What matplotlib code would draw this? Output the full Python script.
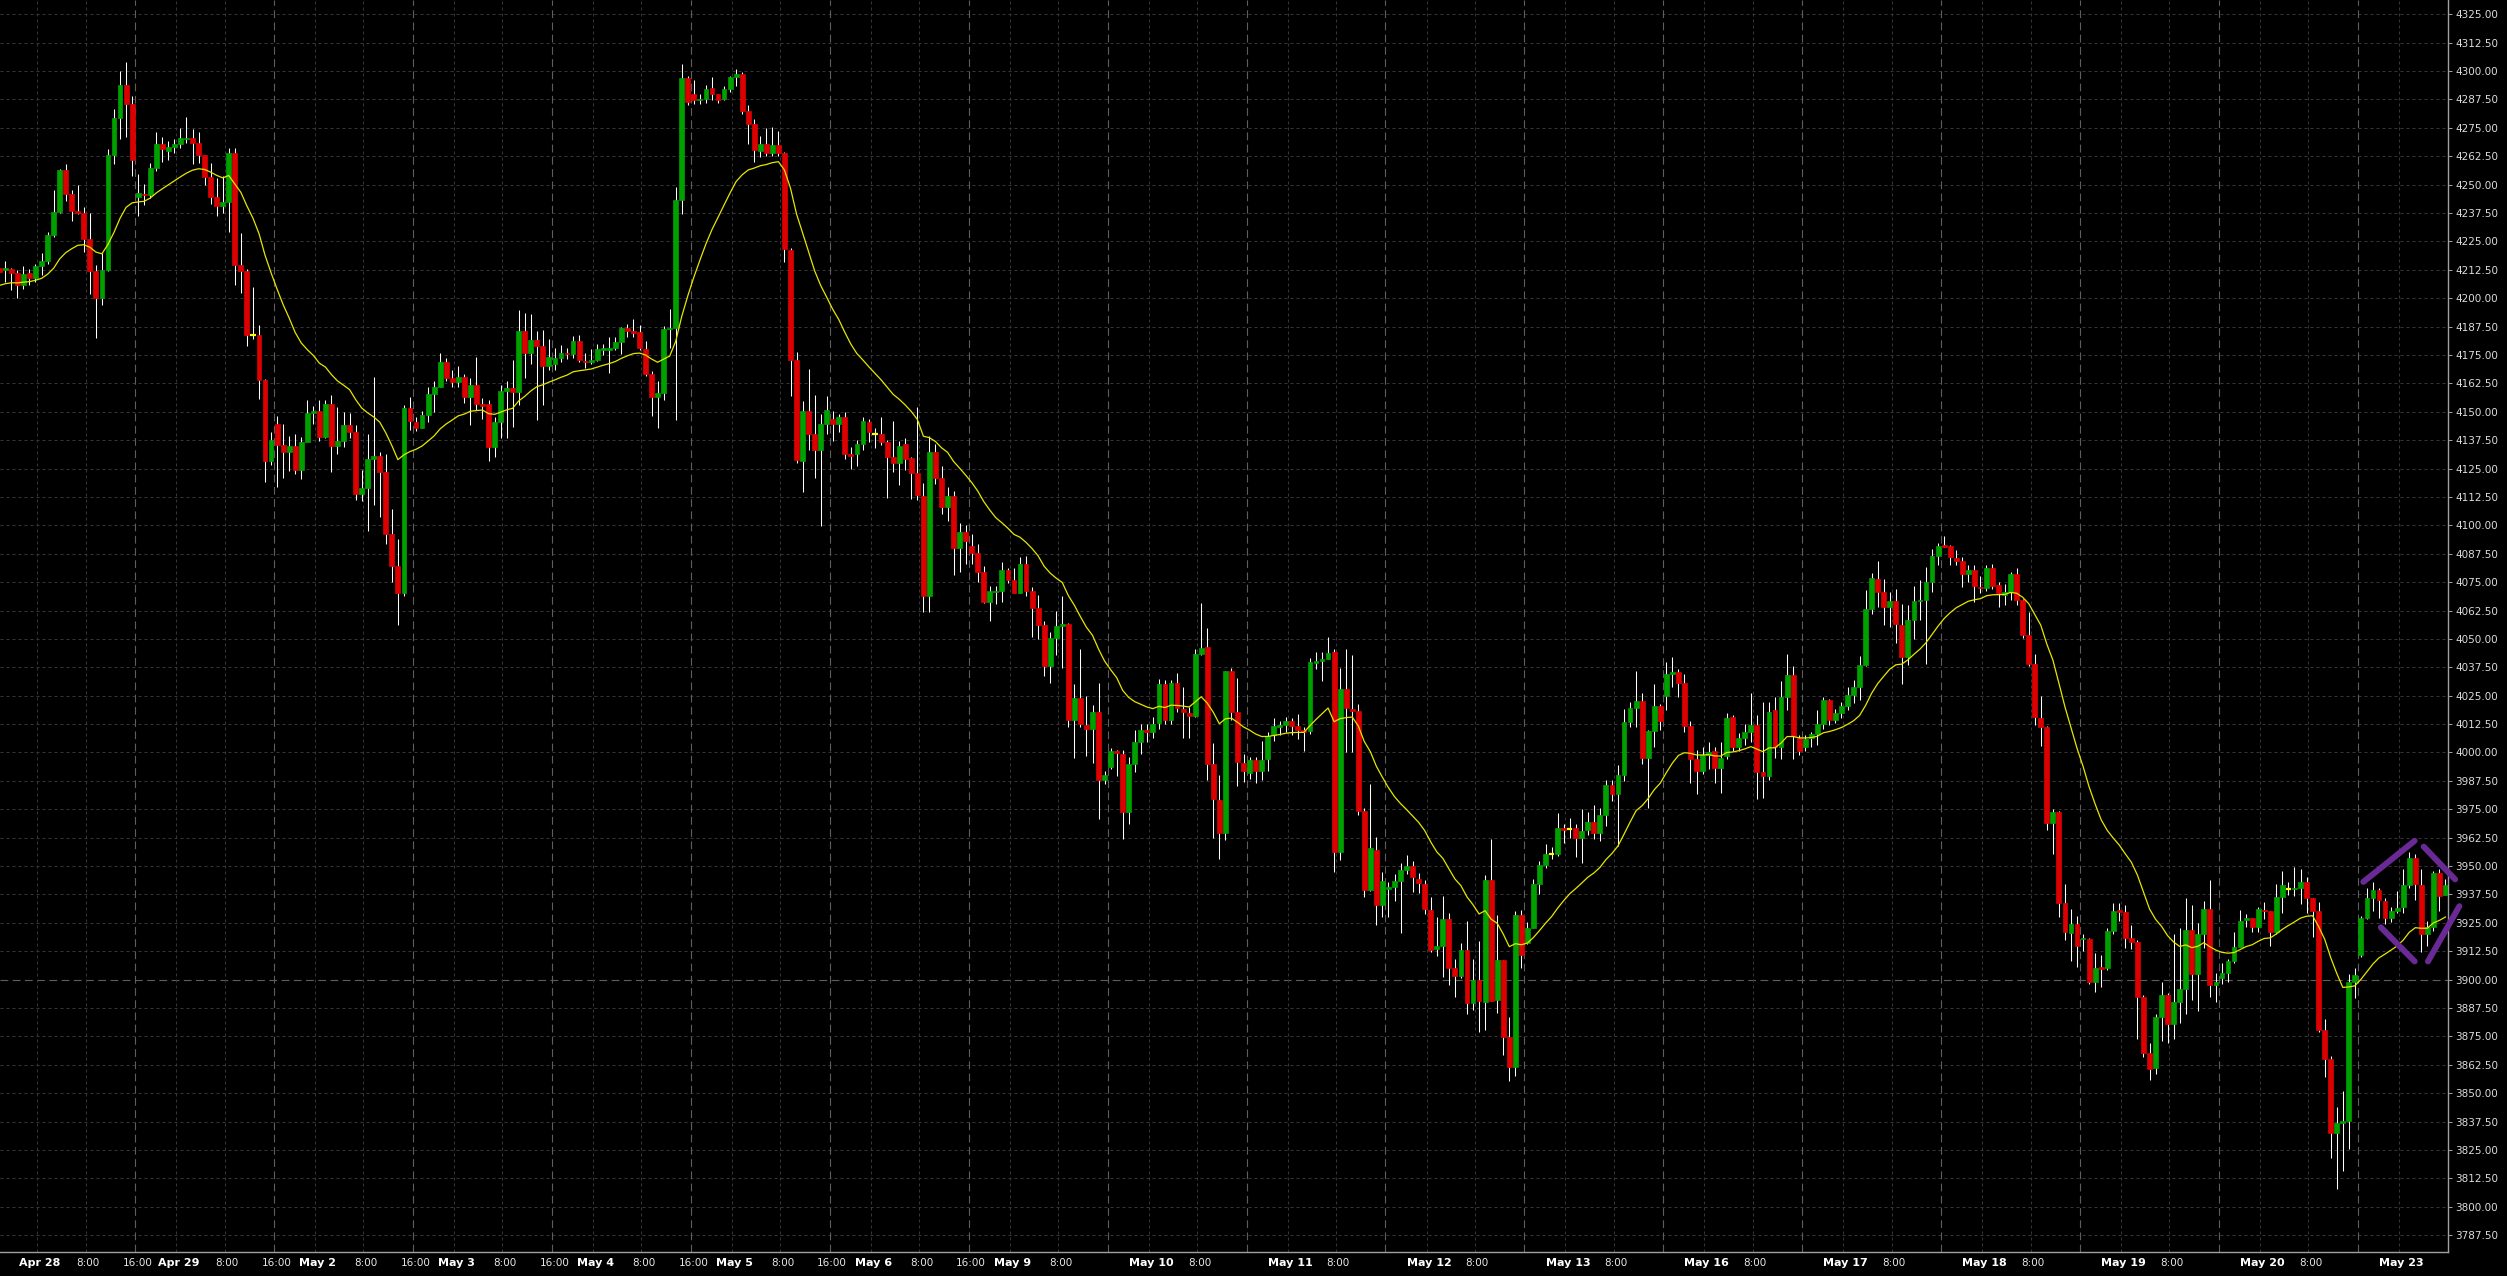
import numpy as np
import matplotlib
matplotlib.use("Agg")
import matplotlib.pyplot as plt

# Hourly bars (ES), Apr 27 late session -> May 23 morning.
# first entry is the bar cut off by the left edge of the chart
opens = [
    4213.5, 4212.5, 4213, 4211, 4206, 4211, 4209, 4214, 4216.5, 4228,
    4238, 4256.5, 4246, 4238.5, 4237.5, 4226, 4212, 4200, 4212.5, 4263,
    4279.5, 4294, 4285.5, 4244.5, 4246, 4245.5, 4257.5, 4268, 4265, 4266.5,
    4268, 4270.25, 4270.5, 4268.5, 4263, 4253.5, 4244.5, 4240.5, 4242.5, 4264,
    4214.5, 4212, 4184, 4184, 4164, 4128.5, 4144.5, 4135.5, 4132.5, 4135,
    4124.5, 4136.5, 4149.5, 4150.5, 4139, 4153.5, 4135, 4137, 4144, 4141,
    4114, 4116.5, 4129, 4130.5, 4123.5, 4096, 4082, 4070, 4151.5, 4145.5,
    4143, 4148.5, 4158, 4161, 4172, 4165, 4163, 4165.5, 4156.5, 4162,
    4153.5, 4153.25, 4134.5, 4145.5, 4159, 4160.25, 4158.5, 4185.5, 4176, 4181.5,
    4179, 4170, 4171.25, 4173.5, 4176, 4175.5, 4181.25, 4172.5, 4172, 4172.75,
    4177.25, 4177.25, 4178.25, 4180.75, 4186.75, 4185.5, 4185.25, 4177.5, 4166.75, 4156.5,
    4158.25, 4186.5, 4187, 4243.25, 4296.75, 4289.75, 4287.25, 4287.75, 4292.5, 4289.75,
    4287.75, 4292, 4297.25, 4298.75, 4282.5, 4276.5, 4264.75, 4268, 4264, 4267.25,
    4264, 4221.25, 4173, 4128.25, 4150.25, 4140.25, 4133, 4144.5, 4146.75, 4144.5,
    4147.75, 4131.5, 4131.25, 4136, 4145.5, 4140.25, 4140.25, 4136.5, 4130.25, 4127.5,
    4135.75, 4129.5, 4123, 4113, 4069, 4132.5, 4121, 4108, 4113, 4090,
    4097, 4091, 4088, 4079.5, 4066.25, 4070.75, 4071.25, 4080.25, 4075.75, 4070.25,
    4083, 4071, 4063.75, 4056.25, 4038.25, 4050.5, 4055.5, 4056.75, 4014.5, 4024,
    4012, 4010.5, 4018, 3988, 3993.5, 4000.5, 3999.5, 3973.75, 3995, 4004.75,
    4010, 4009, 4013, 4030, 4014.5, 4030.75, 4019.25, 4017.5, 4016.25, 4043.5,
    4046.5, 3994.75, 3979, 3964.5, 4035.75, 4018, 3995.25, 3991, 3996.5, 3992,
    3997, 4007.5, 4011.25, 4012, 4013.75, 4011.5, 4009.75, 4009.25, 4039.5, 4040.25,
    4041, 4044.25, 3956.25, 4027.75, 4019.25, 4018.25, 3974.25, 3939.5, 3957.25, 3932.75,
    3940, 3940.75, 3943.25, 3948.25, 3950, 3944.5, 3942, 3930.5, 3913.5, 3915,
    3926.5, 3905, 3901.75, 3913, 3889.5, 3900, 3890.25, 3944, 3891, 3908.5,
    3874.5, 3861.5, 3928.25, 3916.25, 3922.75, 3942, 3950.25, 3955.25, 3955.5, 3966.75,
    3966.5, 3966.75, 3962.25, 3966, 3969.25, 3964.75, 3972.25, 3985.75, 3981.5, 3990,
    4013.25, 4019.75, 4022.5, 3997.75, 4009.5, 4020.5, 4025, 4034.75, 4035.5, 4030.5,
    4011.5, 3997, 3992, 3999, 4000.5, 3993.25, 3998.25, 4015.5, 4002.25, 4006.25,
    4009, 4012, 3991.25, 3989.5, 4018.5, 4002.25, 4024.25, 4034, 4006.25, 4002.25,
    4006.5, 4008.25, 4012.5, 4023.25, 4014.5, 4017.5, 4020.25, 4025.5, 4029, 4038.5,
    4063, 4076.5, 4070.5, 4064.25, 4066.5, 4056, 4042, 4058.5, 4066.5, 4067.25,
    4075, 4086.5, 4091.5, 4090.75, 4085.75, 4084.25, 4078.75, 4080.5, 4073, 4072.5,
    4081, 4073.75, 4069.5, 4070.5, 4078.75, 4067, 4051.5, 4038.75, 4015.25, 4011,
    3968.75, 3974, 3933.5, 3920.5, 3924.25, 3917.75, 3918, 3899, 3905.75, 3905.25,
    3921.5, 3930.75, 3929.75, 3918.5, 3916.5, 3892.25, 3867.5, 3861.25, 3883.5, 3893.25,
    3880.25, 3890, 3896, 3922, 3902.5, 3920.25, 3931.25, 3897.5, 3900.75, 3902.75,
    3908.25, 3914.5, 3926.25, 3927, 3923, 3930.75, 3930, 3920.75, 3936.5, 3939.75,
    3940, 3940.25, 3943, 3935.75, 3930.25, 3877.75, 3865, 3832.25, 3837, 3837.75,
    3898.75, 3911, 3927, 3935.75, 3939.25, 3934.5, 3927, 3930.25, 3931.75, 3941.75,
    3953.5, 3941.75, 3920, 3923, 3947, 3937.25,
]
highs = [
    4215, 4216.5, 4213.5, 4212.5, 4214, 4213, 4215, 4220, 4229, 4247.5,
    4257, 4259, 4247.5, 4250, 4240, 4237.5, 4214.5, 4220, 4265.5, 4283.5,
    4300, 4304, 4289, 4254.5, 4250.5, 4259.5, 4273, 4271, 4269, 4270,
    4275, 4280, 4274.5, 4273, 4263.25, 4259.5, 4253, 4254, 4266, 4266,
    4228.5, 4213, 4205, 4188, 4164.25, 4141, 4148, 4144.5, 4139.5, 4140,
    4139, 4155, 4152.5, 4155, 4155, 4157.5, 4152, 4150, 4149.5, 4144,
    4124.5, 4140, 4165.5, 4132.5, 4131.5, 4107, 4094, 4153, 4156.5, 4147.5,
    4150.5, 4161, 4163.5, 4176, 4173.5, 4168.5, 4170, 4166.5, 4165, 4174,
    4156, 4155, 4147.5, 4162, 4163.5, 4173, 4195, 4193.5, 4193, 4185.5,
    4186, 4182, 4178, 4179.5, 4178.25, 4183.5, 4184, 4176, 4177.5, 4180,
    4179.75, 4183, 4183, 4187.5, 4188.75, 4191, 4188, 4181, 4168, 4163.5,
    4187.75, 4195.25, 4249, 4303, 4297.75, 4296, 4290, 4293.75, 4297.25, 4290,
    4293.5, 4298, 4301, 4299.75, 4285, 4278.75, 4271.25, 4274.75, 4275.25, 4273.75,
    4264.25, 4222, 4176.5, 4154.75, 4169, 4157.25, 4149, 4157, 4150.5, 4149,
    4150, 4134.5, 4137.75, 4147.5, 4146.75, 4142.75, 4147.5, 4137.75, 4146, 4137,
    4138.25, 4130.25, 4152.25, 4118.5, 4139.5, 4136, 4126, 4117, 4115, 4101,
    4100, 4096, 4092, 4082, 4073.5, 4073.5, 4083.75, 4081.25, 4081, 4086,
    4086.5, 4073, 4069.5, 4058, 4053.25, 4062.25, 4069, 4057, 4030, 4045.5,
    4024.75, 4021, 4030.75, 3992, 4002, 4001.25, 4001, 3998, 4009.75, 4012.5,
    4012.5, 4015.5, 4032.5, 4032, 4032, 4035, 4029, 4020, 4045.5, 4065.75,
    4055, 4004, 3990, 4036, 4037.25, 4032.75, 3999.5, 3998, 3998, 4005.25,
    4009, 4015, 4014, 4015.5, 4015, 4017, 4011.25, 4041.75, 4044.25, 4044.25,
    4051, 4045.75, 4037.25, 4045.75, 4042.75, 4021.5, 3975.5, 3986, 3962.75, 3947.25,
    3943, 3946.5, 3951.25, 3954.75, 3952.25, 3947, 3944, 3936.5, 3927.5, 3937,
    3929.5, 3909.25, 3916, 3925.75, 3909.25, 3917, 3946.25, 3962, 3928.25, 3908.75,
    3883.5, 3930, 3930.5, 3925.25, 3944.25, 3952, 3959.75, 3958.5, 3973.25, 3968.5,
    3971.25, 3968.5, 3975, 3974, 3977, 3975.5, 3988, 3988, 3994.5, 4019.25,
    4022, 4036, 4026.25, 4010, 4030, 4021.25, 4039.75, 4042, 4036.75, 4034.75,
    4014, 4001, 4002.5, 4004.5, 4002.25, 4004.5, 4017.25, 4016.5, 4008.75, 4012.5,
    4026.25, 4016.5, 4022, 4022, 4024.25, 4031.5, 4043.25, 4038, 4007.75, 4007.5,
    4009, 4018.5, 4024.5, 4023.75, 4019.25, 4022.25, 4028.75, 4031.75, 4042.25, 4071.5,
    4079, 4084.25, 4076.25, 4070.5, 4072, 4065.5, 4064.75, 4073.5, 4075.75, 4081.75,
    4089.75, 4092.25, 4095.25, 4091.25, 4089, 4086, 4082.5, 4082.5, 4077.5, 4082.5,
    4083, 4075, 4074, 4079.5, 4081, 4067.75, 4061.75, 4043.25, 4024.75, 4011.5,
    3975.25, 3974.25, 3942.25, 3931.25, 3928, 3920.25, 3918.25, 3911.5, 3910.75, 3922.5,
    3933.5, 3933.5, 3932.75, 3924, 3917.25, 3893.25, 3872, 3884.75, 3898.75, 3894.25,
    3920, 3922.5, 3936, 3933, 3925, 3934.5, 3943.75, 3902.75, 3907.25, 3909,
    3921, 3930.5, 3928.75, 3927.25, 3931.75, 3934, 3930.25, 3942, 3948, 3943,
    3949.5, 3948.5, 3945, 3935.75, 3934, 3882.5, 3866.5, 3843.75, 3851, 3902.5,
    3905.25, 3928, 3940.25, 3942.75, 3940.5, 3935.75, 3932, 3939, 3948.5, 3956,
    3955.5, 3948.5, 3925.75, 3948, 3948.5, 3944.5,
]
lows = [
    4209, 4207, 4203.5, 4200, 4204, 4206, 4207, 4210, 4215, 4227,
    4237.5, 4243, 4234, 4237, 4220.5, 4202, 4182.5, 4197, 4212, 4259,
    4270, 4271, 4254, 4236, 4241, 4244, 4256, 4260, 4261, 4264,
    4266, 4268.5, 4259, 4259.5, 4250, 4241.5, 4236, 4237.5, 4229, 4206,
    4202.5, 4179, 4182, 4155.5, 4119, 4126.5, 4117, 4121, 4124, 4122.5,
    4120.5, 4136.5, 4144.5, 4137, 4138.5, 4123.5, 4131.5, 4134.5, 4138.5, 4111,
    4110.5, 4097.5, 4109, 4103.5, 4092, 4075, 4056, 4069, 4142, 4141.5,
    4143, 4145.5, 4150, 4161, 4163.5, 4161, 4161, 4154, 4144, 4151,
    4147, 4128.5, 4130, 4138.5, 4138.5, 4143.5, 4153, 4165, 4171, 4146.5,
    4153, 4168.5, 4168.25, 4172, 4173.25, 4173.5, 4171.75, 4169.25, 4171, 4172.5,
    4175, 4167.25, 4177, 4175.5, 4182.75, 4182.75, 4177, 4165.75, 4148, 4142.75,
    4155, 4178.25, 4146.5, 4237, 4285, 4285.5, 4285.5, 4286, 4287.25, 4286,
    4287.25, 4291, 4293.5, 4281.25, 4268, 4260, 4262.25, 4262.75, 4262.75, 4262.75,
    4216, 4157, 4127.5, 4114.5, 4133, 4121, 4099.5, 4140.25, 4137, 4141,
    4129, 4124.75, 4126.25, 4133, 4136.75, 4134, 4135.5, 4112.25, 4123.5, 4117.75,
    4124.25, 4111.5, 4111.25, 4061.75, 4061.75, 4118, 4105, 4102, 4078, 4079.5,
    4083, 4083, 4075, 4066, 4057.75, 4065.5, 4066.25, 4074.5, 4070, 4070,
    4068.75, 4051, 4049.75, 4033.5, 4030.75, 4042.75, 4037, 4011.25, 3997.5, 4011.25,
    3998.5, 3995.5, 3970.5, 3986, 3992.5, 3989.5, 3962, 3968.5, 3991.25, 3999.5,
    4004.5, 4006.5, 4010.5, 4012.5, 4012.5, 4017.75, 4006.5, 4006.5, 4015.5, 4042.75,
    3988, 3962.25, 3953.25, 3961.25, 4014.5, 3985.25, 3987, 3988.5, 3986.5, 3987.75,
    3991.75, 4005.25, 4007.5, 4009, 4007.5, 4005.75, 4000.5, 4008, 4036.75, 4031.5,
    4041, 3947.5, 3952.5, 4000.25, 4000.25, 3972.25, 3936.25, 3939, 3924, 3927.75,
    3927.75, 3934.75, 3920.5, 3946.5, 3938.5, 3938, 3929, 3912, 3910.5, 3901,
    3897.5, 3892.25, 3900.5, 3885, 3886.5, 3877, 3878, 3890.5, 3885.5, 3867,
    3855.5, 3857.75, 3905.25, 3915.5, 3922.75, 3937.5, 3949, 3953, 3954.5, 3960.25,
    3962.25, 3953.75, 3951.25, 3963.5, 3962, 3961, 3967.5, 3978.75, 3959, 3987.5,
    4011, 4011, 3995, 3975.75, 4002.25, 4010, 4018.5, 4029, 4024.5, 4009,
    3986.75, 3981.5, 3990.5, 3992.75, 3986.75, 3982, 3997, 4000.75, 4000.75, 4003.5,
    4004.5, 3979.5, 3979.75, 3988, 3997.75, 3997, 4018.5, 3997, 3999, 4000.75,
    4002.25, 4003.5, 4010.5, 4012, 4012.75, 4015, 4018.75, 4021.75, 4023.25, 4038,
    4061, 4064, 4056, 4055.25, 4048, 4030, 4038.5, 4050, 4058.25, 4039,
    4070.5, 4082.5, 4090.25, 4082.5, 4082.5, 4073, 4075.25, 4066.25, 4070.25, 4071,
    4071.75, 4064.25, 4064.75, 4067.25, 4064.75, 4050.5, 4038, 4012, 4002.75, 3966,
    3955.5, 3927.5, 3917.25, 3908.25, 3905.75, 3912.75, 3898.25, 3894.5, 3896.75, 3904,
    3920, 3926, 3914, 3913.5, 3874, 3866, 3856, 3858.5, 3872.75, 3872.25,
    3874, 3881, 3885, 3891, 3886, 3914, 3892.5, 3890, 3898.25, 3898.75,
    3907.5, 3914.5, 3923, 3920.75, 3920.75, 3926.5, 3914.75, 3920.25, 3929.5, 3937.25,
    3937, 3933.25, 3929.5, 3918.75, 3877, 3857, 3821.25, 3807.75, 3815.75, 3825.25,
    3892, 3909.75, 3926.5, 3930.25, 3927.25, 3924.5, 3925.5, 3929.5, 3929.5, 3940.5,
    3935, 3912, 3914.75, 3921.5, 3930.25, 3937.25,
]
closes = [
    4211.5, 4213.5, 4211, 4206, 4210.5, 4209, 4214, 4216.5, 4228, 4238,
    4256.5, 4246, 4238.5, 4237.5, 4226, 4212, 4200, 4212.5, 4263, 4279.5,
    4294, 4285.5, 4261, 4246.25, 4245.25, 4257.5, 4268, 4265.5, 4266.5, 4268,
    4270.5, 4270.75, 4268.5, 4263, 4253.5, 4244.5, 4240.5, 4242.5, 4264, 4214.5,
    4212, 4184, 4184, 4164, 4128.5, 4137.5, 4135.5, 4132.5, 4135, 4124.5,
    4136.5, 4149.5, 4150.5, 4139, 4153.5, 4135, 4137, 4144, 4141, 4114,
    4116.5, 4129, 4130.5, 4123.5, 4096, 4082, 4070, 4151.5, 4146, 4143,
    4148.5, 4158, 4161, 4172, 4165, 4163, 4165.5, 4156.5, 4162, 4153.5,
    4152.75, 4134.5, 4145.5, 4159, 4160.25, 4158.5, 4185.5, 4176, 4181.5, 4179,
    4170, 4174, 4173.5, 4176, 4175.25, 4181.25, 4172.75, 4171.75, 4172.75, 4177.5,
    4178.25, 4178.25, 4180.75, 4186.75, 4185.5, 4184.75, 4178, 4166.75, 4156.5, 4158.25,
    4186.5, 4187, 4243.25, 4296.75, 4286.5, 4287.25, 4287.75, 4292, 4290, 4287.25,
    4292, 4297.5, 4298.75, 4282.5, 4276.75, 4265.25, 4268, 4264, 4267.5, 4264,
    4221.5, 4172.75, 4128.75, 4150.25, 4140.25, 4133, 4144.5, 4151, 4144.5, 4147.75,
    4131.5, 4130.5, 4136, 4145.75, 4141, 4140.25, 4136.75, 4130.25, 4127.5, 4135,
    4129, 4123, 4113.5, 4069, 4132.5, 4121, 4108, 4113, 4090, 4097,
    4093, 4088, 4079.5, 4066.25, 4071, 4071.25, 4080.25, 4075.75, 4070.25, 4083,
    4071, 4063.75, 4056, 4038.25, 4050.5, 4055.5, 4056.75, 4014.5, 4024, 4012.5,
    4010.5, 4018, 3988, 3990, 4000.5, 3999.75, 3973.75, 3994.75, 4004.75, 4010,
    4009, 4012.5, 4030, 4014.5, 4030.75, 4019.5, 4017.75, 4016.25, 4043.5, 4046,
    3995, 3979.5, 3964.5, 4035.75, 4018, 3995.75, 3991.75, 3996.5, 3992, 3996.5,
    4007.25, 4011.5, 4012, 4013.75, 4011.5, 4009.75, 4009, 4039.75, 4040.25, 4041,
    4043.75, 3956.25, 4027.75, 4019.5, 4018.25, 3974.25, 3939.5, 3958, 3932.75, 3943.25,
    3940.75, 3943.25, 3948.25, 3950, 3945, 3942.5, 3931.25, 3913, 3915, 3926.5,
    3905, 3901.75, 3913, 3889.5, 3900, 3890.5, 3944, 3890.75, 3908.5, 3874.75,
    3861.5, 3928.25, 3911, 3922.75, 3942, 3950.5, 3955.5, 3955.25, 3966.75, 3966,
    3966.5, 3962.25, 3965.5, 3969.25, 3964.75, 3972.5, 3985.5, 3981.5, 3990, 4013.25,
    4019.75, 4022.5, 3997.5, 4009.5, 4020.5, 4014, 4034.5, 4035.5, 4030.75, 4011.5,
    3997, 3992, 3999, 4000.25, 3993.25, 3997.75, 4015, 4002.25, 4006.25, 4009,
    4012, 3991.25, 3989.5, 4018, 4002.25, 4024.25, 4034, 4007.25, 4000.75, 4006,
    4008.25, 4012.5, 4023.25, 4014.5, 4017.5, 4020.25, 4025.5, 4029, 4038.5, 4063,
    4077, 4070.5, 4064.25, 4066.5, 4056.5, 4042, 4058.5, 4066.5, 4067.25, 4075,
    4086.5, 4090.75, 4090.5, 4086, 4084.25, 4078.75, 4080.25, 4073.25, 4072.5, 4081,
    4073.5, 4070, 4070.5, 4078.75, 4067, 4051.5, 4038.75, 4015.5, 4011, 3968.75,
    3974, 3933.75, 3921, 3924.25, 3915, 3918.5, 3899, 3905.25, 3904.75, 3921.5,
    3930, 3929.75, 3918.5, 3916.75, 3892.25, 3867.5, 3860.75, 3883.5, 3893.25, 3880.5,
    3890, 3896, 3922, 3902.5, 3920.25, 3931.25, 3897.5, 3898.75, 3902.75, 3908.25,
    3914.5, 3925.75, 3927, 3923, 3931.25, 3930, 3920.75, 3936.5, 3941.75, 3939.75,
    3940.25, 3943, 3935.75, 3930.25, 3878, 3865, 3832.5, 3837, 3837.75, 3898.75,
    3902, 3927, 3935.75, 3939.25, 3935, 3927, 3930.25, 3931.5, 3941.75, 3953.5,
    3942.25, 3920, 3923, 3947, 3936.75, 3941.75,
]

day_names = ["Apr 28", "Apr 29", "May 2", "May 3", "May 4", "May 5", "May 6", "May 9", "May 10",
             "May 11", "May 12", "May 13", "May 16", "May 17", "May 18", "May 19", "May 20", "May 23"]
days_with_16 = 7          # 16:00 label only shown for the first week
first_day_bar = 5.3       # bar position of the Apr 28 00:00 line
bars_per_day = 23

ema_span = 20
ema_seed = 4205.0         # value of the MA at the left edge

price_levels = np.arange(3787.5, 4325.01, 12.5)
level_line = 3900.0

# purple bracket drawn on the chart (bar index, price)
bracket = [
    ((390.4, 3943.0), (398.9, 3961.1)),
    ((400.4, 3958.5), (405.6, 3944.1)),
    ((393.3, 3923.0), (398.9, 3908.0)),
    ((401.1, 3908.0), (406.3, 3932.3)),
]

o = np.array(opens, dtype=float)
h = np.array(highs, dtype=float)
l = np.array(lows, dtype=float)
c = np.array(closes, dtype=float)
x = np.arange(len(c)) - 1

# exponential MA on closes
alpha = 2.0 / (ema_span + 1)
ema = []
prev = ema_seed
for v in c:
    prev = prev + alpha * (v - prev)
    ema.append(prev)

bg = "#000000"
dim = "#363636"
bright = "#5e5e5e"
green = "#00a000"
red = "#dc0000"

fig = plt.figure(figsize=(25.07, 12.76), dpi=100, facecolor=bg)
ax = fig.add_axes([0, 0.01857, 0.97647, 0.98143])
ax.set_facecolor(bg)

# grid
for lv in price_levels:
    if lv == level_line:
        ax.axhline(lv, color=bright, lw=0.8, dashes=(7, 4), zorder=0)
    else:
        ax.axhline(lv, color=dim, lw=0.72, dashes=(3, 3), zorder=0)

tick_pos = []
tick_lab = []
tick_bold = []
for k, name in enumerate(day_names):
    d = first_day_bar + bars_per_day * k
    for off, lab in [(0, name), (8, "8:00"), (16.2, "16:00")]:
        pos = d + off
        if pos > 403.8:
            continue
        if off == 16.2:
            ax.axvline(pos, color=bright, lw=0.8, dashes=(7, 4), zorder=0)
        else:
            ax.axvline(pos, color=dim, lw=0.72, dashes=(3, 3), zorder=0)
        if off == 16.2 and k >= days_with_16:
            continue
        tick_pos.append(pos + 0.4)
        tick_lab.append(lab)
        tick_bold.append(off == 0)

# candles
ax.vlines(x, l, h, color="white", lw=0.75, zorder=2)
up = c > o
dn = c < o
doji = c == o
ax.bar(x[up], (c - o)[up], bottom=o[up], width=0.8, color=green, edgecolor=green, lw=0.5, zorder=3)
ax.bar(x[dn], (o - c)[dn], bottom=c[dn], width=0.8, color=red, edgecolor=red, lw=0.5, zorder=3)
ax.hlines(c[doji], x[doji] - 0.45, x[doji] + 0.45, color="#ffff00", lw=1.6, zorder=3)

ax.plot(x, ema, color="#e6e600", lw=0.9, zorder=4)

for (x0, y0), (x1, y1) in bracket:
    ax.plot([x0, x1], [y0, y1], color="#6a2a96", lw=4.3, solid_capstyle="round",
            clip_on=False, zorder=5)

ax.set_xlim(-0.877, 404.42)
ax.set_ylim(3779.92, 4331.30)

for side in ["left", "top"]:
    ax.spines[side].set_visible(False)
for side in ["right", "bottom"]:
    ax.spines[side].set_color("#a0a0a0")
    ax.spines[side].set_linewidth(1.0)

ax.yaxis.tick_right()
ax.set_yticks(price_levels)
ax.set_yticklabels(["%.2f" % v for v in price_levels])
ax.tick_params(axis="y", colors="#a0a0a0", labelcolor="#dcdcdc", labelsize=7.5,
               length=3, width=0.7, pad=2)

ax.set_xticks(tick_pos)
ax.set_xticklabels(tick_lab)
ax.tick_params(axis="x", length=0, labelcolor="white", labelsize=7.5, pad=4)
for t, b in zip(ax.get_xticklabels(), tick_bold):
    if b:
        t.set_fontweight("bold")
        t.set_fontsize(8)
    else:
        t.set_color("#e8e8e8")

fig.savefig("out.png", dpi=100, facecolor=bg)
